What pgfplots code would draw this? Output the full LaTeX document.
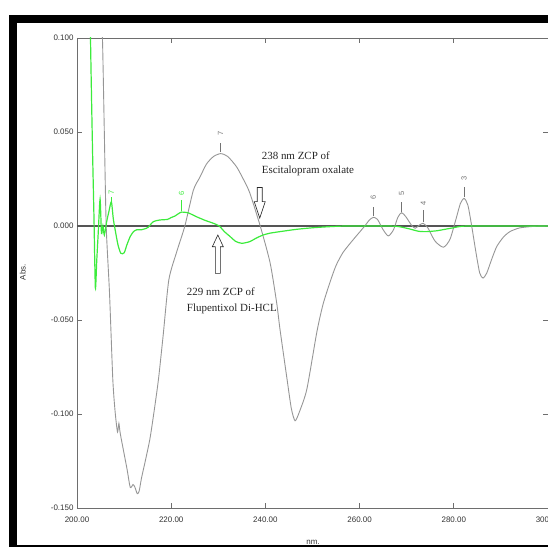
\documentclass[border=0pt]{standalone}
\usepackage{fontspec}
\setmainfont{Liberation Sans}
\newfontfamily\timesfont{Liberation Serif}
\usepackage{pgfplots}
\pgfplotsset{compat=1.18}
\definecolor{curvegray}{RGB}{150,150,150}
\definecolor{axisgray}{RGB}{110,110,110}
\definecolor{zerogray}{RGB}{85,85,85}
\definecolor{specgreen}{RGB}{60,235,60}
\definecolor{labelgray}{RGB}{115,115,115}

\begin{document}
\begin{tikzpicture}
\begin{axis}[
 name=ax,
 scale only axis, width=471bp, height=470bp,
 xmin=200, xmax=300, ymin=-0.15, ymax=0.1,
 xtick={200,220,240,260,280,300},
 ytick={-0.15,-0.1,-0.05,0,0.05,0.1},
 scaled ticks=false,
 axis line style={axisgray, line width=0.8bp},
 tick style={axisgray, line width=0.8bp},
 tick align=inside, major tick length=5bp,
 x tick label style={/pgf/number format/.cd, fixed, fixed zerofill, precision=2, assume math mode=true, /tikz/.cd, font=\fontsize{8}{9}\selectfont, yshift=-5bp, text=black!80},
 y tick label style={/pgf/number format/.cd, fixed, fixed zerofill, precision=3, assume math mode=true, /tikz/.cd, font=\fontsize{8}{9}\selectfont, text=black!80},
 clip mode=individual,
]
\addplot[zerogray, line width=1.5bp] coordinates {(200,0) (300,0)};
\addplot[curvegray, line width=0.9bp, smooth, tension=0.4] coordinates {
(205.0,0.110) (205.4,0.100) (205.8,0.050) (206.2,0.000) (206.9,-0.0355)
(207.6,-0.0815) (208.1,-0.099) (208.6,-0.1096) (208.9,-0.105) (209.2,-0.1106)
(210.6,-0.129) (211.3,-0.139) (211.9,-0.1375) (212.3,-0.139) (212.8,-0.1424)
(213.2,-0.141) (213.7,-0.134) (214.5,-0.125) (215.5,-0.113) (216.4,-0.098)
(217.3,-0.0815) (218.3,-0.058) (219.5,-0.0286) (221.2,-0.0135) (222.9,0.0)
(224.7,0.019) (226.1,0.026) (227.5,0.033) (229.0,0.0370) (230.5,0.0385)
(232.0,0.0370) (233.9,0.0314) (235.5,0.024) (236.7,0.0175) (238.9,0.0)
(241.0,-0.0196) (242.4,-0.041) (243.1,-0.055) (244.5,-0.0798) (245.5,-0.097)
(246.3,-0.1036) (247.2,-0.099) (248.8,-0.0868) (250.9,-0.0567) (252.2,-0.042)
(253.7,-0.030) (255.0,-0.021) (256.5,-0.014) (258.6,-0.0074) (261.1,0.0)
(262.0,0.0030) (262.9,0.0046) (263.8,0.0035) (265.0,-0.002) (266.1,-0.0053)
(267.2,-0.002) (268.1,0.0045) (268.9,0.0071) (269.8,0.005) (271.0,0.0005)
(271.8,-0.0012) (272.7,0.0005) (273.5,0.0014) (274.5,-0.001) (276.0,-0.008)
(277.8,-0.0113) (279.2,-0.007) (280.5,0.004) (281.4,0.0120) (282.2,0.0147)
(283.0,0.0110) (283.8,0.0) (284.7,-0.014) (285.5,-0.025) (286.2,-0.0277)
(287.0,-0.025) (288.0,-0.018) (289.1,-0.011) (290.5,-0.0060) (291.9,-0.003)
(294.0,-0.001) (297.0,-0.0002) (300.0,0.0)
};
\addplot[specgreen, line width=1.2bp, smooth, tension=0.4] coordinates {
(202.8,0.110) (203.0,0.080) (203.3,0.040) (203.6,0.005) (203.9,-0.033)
(204.2,-0.018) (204.5,-0.004) (204.9,0.0143) (205.2,-0.004) (205.5,0.0)
(205.8,-0.0048) (206.3,0.0023) (206.8,0.008) (207.3,0.0129) (207.7,0.004)
(208.1,-0.002) (208.7,-0.010) (209.3,-0.0145) (210.0,-0.0143) (210.6,-0.010)
(211.3,-0.0056) (212.0,-0.003) (212.7,-0.002) (213.7,-0.002) (214.4,-0.0015)
(215.1,-0.0007) (216.2,0.0023) (217.6,0.0032) (219.2,0.0035) (220.0,0.0045)
(220.8,0.0053) (221.5,0.0065) (222.2,0.0074) (223.6,0.0070) (225.4,0.0049)
(227.2,0.003) (229.0,0.0014) (230.2,0.0) (231.3,-0.003) (232.5,-0.0056)
(233.7,-0.0082) (235.0,-0.0092) (236.7,-0.0083) (238.0,-0.0065) (239.5,-0.0048)
(241.0,-0.0038) (243.1,-0.003) (246.5,-0.0018) (250.2,-0.0009) (254.0,-0.0003)
(257.3,0.0) (265.0,0.0) (268.0,-0.0002) (270.5,-0.0015) (272.5,-0.0028)
(274.2,-0.003) (276.5,-0.0025) (279.8,-0.001) (283.0,0.0) (300.0,0.0)
};
% peak markers (gray)
\draw[labelgray, line width=0.6bp] (axis cs:230.5,0.0395) -- (axis cs:230.5,0.0440);
\node[labelgray, rotate=90, font=\fontsize{7.5}{8}\selectfont] at (axis cs:230.5,0.0492) {7};
\draw[labelgray, line width=0.6bp] (axis cs:262.9,0.0052) -- (axis cs:262.9,0.0102);
\node[labelgray, rotate=90, font=\fontsize{7.5}{8}\selectfont] at (axis cs:262.9,0.0150) {6};
\draw[labelgray, line width=0.6bp] (axis cs:268.9,0.0077) -- (axis cs:268.9,0.0129);
\node[labelgray, rotate=90, font=\fontsize{7.5}{8}\selectfont] at (axis cs:268.9,0.0175) {5};
\draw[labelgray, line width=0.6bp] (axis cs:273.5,0.0020) -- (axis cs:273.5,0.0085);
\node[labelgray, rotate=90, font=\fontsize{7.5}{8}\selectfont] at (axis cs:273.5,0.0122) {4};
\draw[labelgray, line width=0.6bp] (axis cs:282.2,0.0155) -- (axis cs:282.2,0.0208);
\node[labelgray, rotate=90, font=\fontsize{7.5}{8}\selectfont] at (axis cs:282.2,0.0254) {3};
% peak markers (green)
\draw[specgreen, line width=0.6bp] (axis cs:207.3,0.0135) -- (axis cs:207.3,0.0155);
\node[specgreen, rotate=90, font=\fontsize{7.5}{8}\selectfont] at (axis cs:207.3,0.0178) {7};
\draw[specgreen, line width=0.6bp] (axis cs:222.2,0.0078) -- (axis cs:222.2,0.0138);
\node[specgreen, rotate=90, font=\fontsize{7.5}{8}\selectfont] at (axis cs:222.2,0.0175) {6};
% hollow arrows
\draw[black!85, line width=0.6bp, fill=white] (axis cs:238.8,0.0205) ++(-2.5bp,0bp) -- ++(0bp,-14.2bp) -- ++(-3bp,0bp) -- ++(5.5bp,-16.5bp) -- ++(5.5bp,16.5bp) -- ++(-3bp,0bp) -- ++(0bp,14.2bp) -- cycle;
\draw[black!85, line width=0.6bp, fill=white] (axis cs:229.9,-0.0048) -- ++(-5.5bp,-11.7bp) -- ++(3bp,0bp) -- ++(0bp,-26.6bp) -- ++(5bp,0bp) -- ++(0bp,26.6bp) -- ++(3bp,0bp) -- cycle;
% annotations
\node[anchor=north west, inner sep=0pt, align=left, font=\timesfont\fontsize{11}{14}\selectfont, text=black!85] at (axis cs:239.2,0.0398) {238 nm ZCP of\\Escitalopram oxalate};
\node[anchor=north west, inner sep=0pt, align=left, font=\timesfont\fontsize{11}{15.5}\selectfont, text=black!85] at (axis cs:223.3,-0.0330) {229 nm ZCP of\\Flupentixol Di-HCL};
% axis titles
\node[rotate=90, font=\fontsize{8}{9}\selectfont, text=black!80] at (axis description cs:-0.1153,0.502) {Abs.};
\node[font=\fontsize{8}{9}\selectfont, text=black!80] at (axis description cs:0.501,-0.0723) {nm.};
\end{axis}
\draw[black, line width=8bp] ([shift={(-64.2bp,-41bp)}]ax.south west) rectangle ([shift={(490bp,488.5bp)}]ax.south west);
\pgfresetboundingbox
\path[use as bounding box] ([shift={(-77bp,-39bp)}]ax.south west) rectangle ([shift={(471bp,508bp)}]ax.south west);
\end{tikzpicture}
\end{document}
